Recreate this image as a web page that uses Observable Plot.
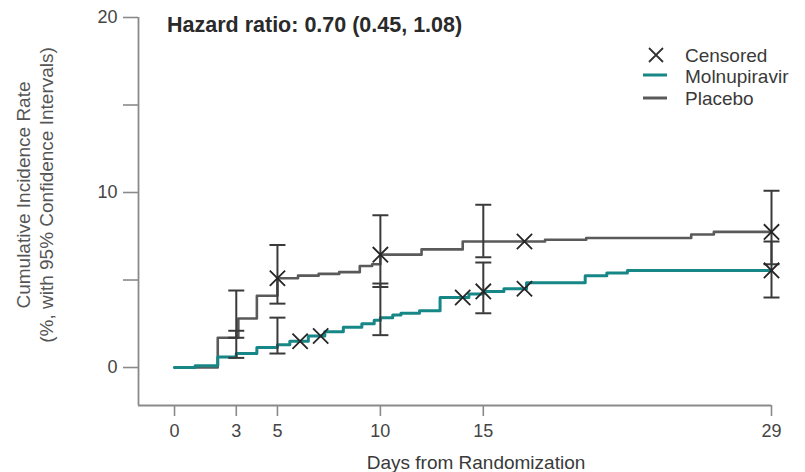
<!DOCTYPE html>
<html>
<head>
<meta charset="utf-8">
<script src="https://cdn.jsdelivr.net/npm/d3@7"></script>
<script src="https://cdn.jsdelivr.net/npm/@observablehq/plot@0.6"></script>
<style>
  body { margin: 0; background: #fff; }
  #wrap { position: relative; width: 805px; height: 472px; font-family: "Liberation Sans", Arial, sans-serif; }
  #wrap > svg { position: absolute; left: 0; top: 0; }
  #overlay { pointer-events: none; }
</style>
</head>
<body>
<div id="wrap"></div>
<script>
// ---- Data ----
const xTicks = [0, 3, 5, 10, 15, 29];
const yTicks = [0, 5, 10, 15, 20];
const yLabeledTicks = [0, 10, 20];

// Molnupiravir step curve (day, cumulative incidence %)
const molDays = [0, 1.0, 2.1, 3.0, 4.0, 5.0, 5.6, 6.5, 7.3, 8.2, 9.1, 9.7, 10.0, 10.6, 11.0, 11.9, 12.9, 14.3, 15.0, 16.0, 17.1, 19.95, 21.0, 22.0, 29];
const molVals = [0, 0.1, 0.6, 0.8, 1.15, 1.3, 1.5, 1.8, 2.05, 2.3, 2.5, 2.7, 2.85, 3.0, 3.1, 3.25, 4.0, 4.2, 4.35, 4.5, 4.85, 5.25, 5.4, 5.55, 5.55];

// Placebo step curve
const plaDays = [0, 2.1, 3.1, 4.0, 5.0, 6.0, 7.0, 8.0, 9.0, 9.6, 10.0, 12.0, 14.0, 18.0, 20.0, 25.1, 26.2, 29];
const plaVals = [0, 1.7, 2.8, 4.1, 5.1, 5.25, 5.35, 5.45, 5.8, 5.9, 6.45, 6.75, 7.2, 7.3, 7.4, 7.6, 7.75, 7.75];

// Censored marks
const molCensDays = [6.1, 7.1, 14.0, 15.0, 17.0, 29];
const molCensVals = [1.5, 1.8, 4.0, 4.35, 4.5, 5.55];
const plaCensDays = [5.0, 10.0, 17.0, 29];
const plaCensVals = [5.1, 6.45, 7.2, 7.75];

// 95% confidence intervals
const ciDays = [3, 5, 10, 15, 29];
const plaLower = [1.7, 3.65, 4.6, 6.3, 5.9];
const plaUpper = [4.4, 7.0, 8.7, 9.3, 10.1];
const molLower = [0.55, 0.8, 1.85, 3.1, 4.0];
const molUpper = [2.1, 2.85, 4.8, 6.0, 7.2];

const titleText = "Hazard ratio: 0.70 (0.45, 1.08)";
const seriesNames = ["Molnupiravir", "Placebo"];
const xLabel = "Days from Randomization";
const yLabel1 = "Cumulative Incidence Rate";
const yLabel2 = "(%, with 95% Confidence Intervals)";

// ---- Build tables ----
const toPts = (days, vals) => days.map((d, i) => ({day: d, v: vals[i]}));
const mol = toPts(molDays, molVals);
const pla = toPts(plaDays, plaVals);
const cens = [...toPts(molCensDays, molCensVals), ...toPts(plaCensDays, plaCensVals)];
const ci = [
  ...ciDays.map((d, i) => ({day: d, lo: plaLower[i], hi: plaUpper[i]})),
  ...ciDays.map((d, i) => ({day: d, lo: molLower[i], hi: molUpper[i]}))
];
const caps = ci.flatMap(d => [{day: d.day, v: d.lo}, {day: d.day, v: d.hi}]);

const xDom = [-1.75, 29];
const yDom = [-2.17, 20];

const TEAL = "#168686";
const GRAY = "#5a5a5a";
const AXIS = "#8a8a8a";

// horizontal cap symbol (pixel sized)
const capSymbol = {
  draw(ctx, size) {
    const r = Math.sqrt(size / Math.PI);
    ctx.moveTo(-r, 0);
    ctx.lineTo(r, 0);
  }
};

const chart = Plot.plot({
  width: 805,
  height: 472,
  marginLeft: 138,
  marginRight: 34,
  marginTop: 17,
  marginBottom: 67,
  x: {domain: xDom},
  y: {domain: yDom},
  style: {fontSize: "18px", fontFamily: "'Liberation Sans', Arial, sans-serif", background: "transparent"},
  marks: [
    Plot.axisX({ticks: xTicks, tickSize: 11, tickPadding: 8, stroke: AXIS, strokeWidth: 1.6, fill: "#454545", label: null, fontSize: 18}),
    Plot.axisY({ticks: yTicks, tickSize: 15, tickPadding: 6, stroke: AXIS, strokeWidth: 1.6, fill: "#454545", label: null, fontSize: 18,
      tickFormat: d => yLabeledTicks.includes(d) ? String(d) : ""}),
    Plot.ruleX([xDom[0]], {y1: yDom[0], y2: yDom[1], stroke: AXIS, strokeWidth: 1.8}),
    Plot.ruleY([yDom[0]], {x1: xDom[0], x2: xDom[1], stroke: AXIS, strokeWidth: 1.8}),
    Plot.line(pla, {x: "day", y: "v", curve: "step-after", stroke: GRAY, strokeWidth: 2.6}),
    Plot.line(mol, {x: "day", y: "v", curve: "step-after", stroke: TEAL, strokeWidth: 3}),
    Plot.ruleX(ci, {x: "day", y1: "lo", y2: "hi", stroke: "#3a3a3a", strokeWidth: 2}),
    Plot.dot(caps, {x: "day", y: "v", symbol: capSymbol, r: 8, stroke: "#3a3a3a", strokeWidth: 2}),
    Plot.dot(cens, {x: "day", y: "v", symbol: "times", r: 7, stroke: "#262626", strokeWidth: 1.8})
  ]
});

const wrap = document.getElementById("wrap");
wrap.appendChild(chart);

// ---- Text overlay: title, legend, axis titles ----
const ns = "http://www.w3.org/2000/svg";
const ov = document.createElementNS(ns, "svg");
ov.setAttribute("id", "overlay");
ov.setAttribute("width", 805);
ov.setAttribute("height", 472);
ov.style.fontFamily = "'Liberation Sans', Arial, sans-serif";
wrap.appendChild(ov);
function el(tag, attrs, text) {
  const e = document.createElementNS(ns, tag);
  for (const k in attrs) e.setAttribute(k, attrs[k]);
  if (text != null) e.textContent = text;
  ov.appendChild(e);
  return e;
}
el("text", {x: 167, y: 32, "font-size": 21.5, "font-weight": "bold", fill: "#2a2a2a"}, titleText);

// legend
el("path", {d: "M649,48 L663,62 M649,62 L663,48", stroke: "#333", "stroke-width": 1.8, fill: "none"});
el("text", {x: 685, y: 62, "font-size": 19, fill: "#3a3a3a"}, "Censored");
el("line", {x1: 643, x2: 667, y1: 75, y2: 75, stroke: TEAL, "stroke-width": 3});
el("text", {x: 685, y: 83, "font-size": 19, fill: "#3a3a3a"}, seriesNames[0]);
el("line", {x1: 643, x2: 667, y1: 98, y2: 98, stroke: GRAY, "stroke-width": 3});
el("text", {x: 685, y: 105, "font-size": 19, fill: "#3a3a3a"}, seriesNames[1]);

// axis titles
el("text", {x: 476, y: 469, "font-size": 19, fill: "#3a3a3a", "text-anchor": "middle"}, xLabel);
el("text", {x: 0, y: 0, "font-size": 19, fill: "#555", "text-anchor": "middle", transform: "translate(30,195) rotate(-90)"}, yLabel1);
el("text", {x: 0, y: 0, "font-size": 19, fill: "#555", "text-anchor": "middle", transform: "translate(53,195) rotate(-90)"}, yLabel2);
</script>
</body>
</html>
